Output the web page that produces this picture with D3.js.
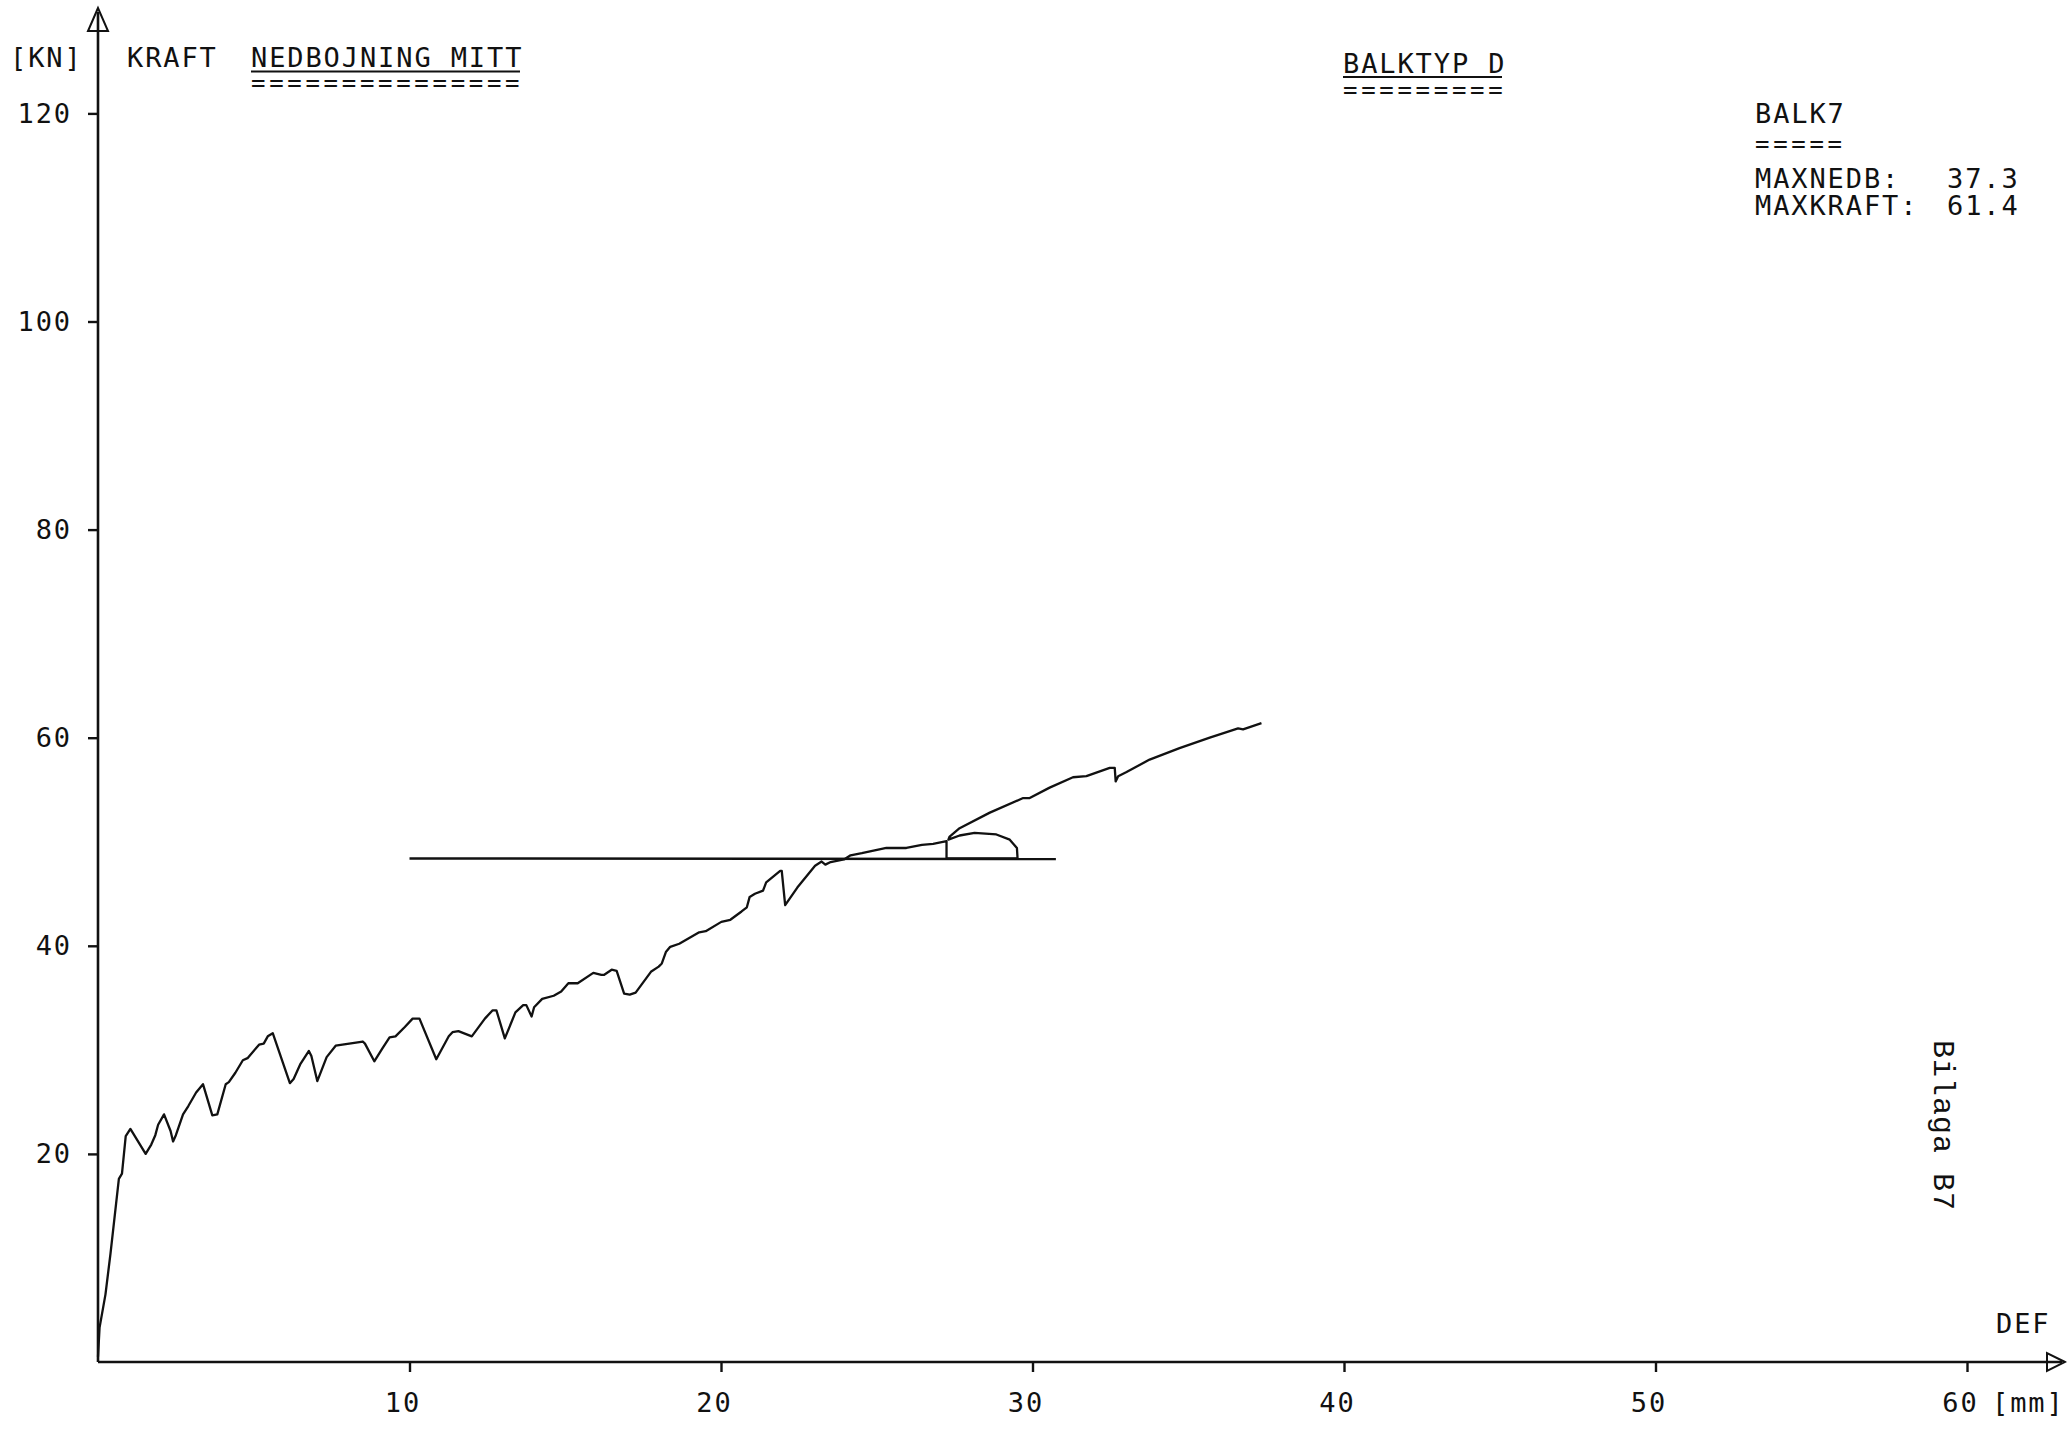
<!DOCTYPE html>
<html>
<head>
<meta charset="utf-8">
<script src="https://cdn.jsdelivr.net/npm/d3@7"></script>
<style>
  html, body { margin: 0; padding: 0; background: #fff; }
  svg { display: block; }
  text { font-family: 'DejaVu Sans Mono', monospace; font-size: 27px; fill: #111; letter-spacing: 1.9px; }
  text.rule { font-size: 24px; letter-spacing: 3.7px; }
</style>
</head>
<body>
<svg id="chart"></svg>
<script>
// force / deflection curve (mm, kN)
const deflection = [0, 0.05, 0.24, 0.4, 0.58, 0.67, 0.77, 0.89, 1.04, 1.53, 1.71, 1.84, 1.93, 2.12, 2.33, 2.41, 2.5,
  2.73, 2.9, 3.15, 3.37, 3.67, 3.83, 4.1, 4.2, 4.41, 4.65, 4.8, 5.17, 5.32, 5.45, 5.61, 6.16, 6.28, 6.49, 6.77, 6.85,
  7.04, 7.34, 7.63, 8.5, 8.57, 8.87, 9.12, 9.36, 9.55, 9.85, 10.1, 10.32, 10.86, 11.26, 11.38, 11.57, 12.0, 12.42,
  12.67, 12.79, 13.06, 13.4, 13.65, 13.75, 13.92, 14.0, 14.26, 14.63, 14.87, 15.1, 15.4, 15.9, 16.16, 16.24, 16.49,
  16.65, 16.89, 17.07, 17.26, 17.75, 18.0, 18.1, 18.23, 18.37, 18.66, 19.3, 19.51, 20.01, 20.3, 20.66, 20.83, 20.92,
  21.09, 21.35, 21.45, 21.9, 21.95, 22.06, 22.45, 23.02, 23.23, 23.35, 23.52, 23.95, 24.16, 24.52, 25.31, 25.95,
  26.45, 26.81, 27.24, 27.24, 29.52, 29.5, 29.27, 28.84, 28.14, 27.66, 27.3, 27.34, 27.66, 28.63, 29.7, 29.91, 30.55,
  31.3, 31.73, 32.48, 32.64, 32.67, 32.75, 33.02, 33.76, 34.72, 35.69, 36.6, 36.76, 37.35];
const force = [0.5, 3.3, 6.5, 10.4, 15.2, 17.6, 18.1, 21.7, 22.4, 20.0, 20.9, 21.8, 22.8, 23.8, 22.2, 21.2, 21.8,
  23.8, 24.6, 25.9, 26.7, 23.7, 23.8, 26.7, 26.9, 27.8, 29.0, 29.2, 30.5, 30.6, 31.3, 31.6, 26.8, 27.2, 28.6, 29.9, 29.4,
  27.0, 29.3, 30.4, 30.8, 30.6, 28.9, 30.1, 31.2, 31.3, 32.2, 33.0, 33.0, 29.1, 31.3, 31.7, 31.8, 31.3, 33.0,
  33.8, 33.8, 31.1, 33.6, 34.3, 34.3, 33.2, 34.1, 34.9, 35.2, 35.6, 36.4, 36.4, 37.4, 37.2, 37.2, 37.7,
  37.6, 35.4, 35.3, 35.5, 37.5, 38.0, 38.3, 39.4, 39.9, 40.2, 41.3, 41.4, 42.3, 42.5, 43.3, 43.7, 44.7,
  45.0, 45.3, 46.1, 47.2, 47.2, 43.9, 45.6, 47.7, 48.1, 47.8, 48.05, 48.3, 48.7, 48.9, 49.4, 49.4,
  49.7, 49.8, 50.05, 48.4, 48.4, 49.4, 50.2, 50.7, 50.85, 50.6, 50.2, 50.5, 51.3, 52.8, 54.2, 54.2, 55.2,
  56.2, 56.3, 57.1, 57.1, 55.8, 56.3, 56.7, 57.9, 59.0, 60.0, 60.9, 60.8, 61.4];

// horizontal reference line
const refDeflection = [10, 30.75];
const refForce = [48.4, 48.35];

const xTicks = [10, 20, 30, 40, 50, 60];
const yTicks = [20, 40, 60, 80, 100, 120];
const maxDeflection = 37.3;
const maxForce = 61.4;

const width = 2067;
const height = 1431;

const svg = d3.select('#chart')
    .attr('width', width)
    .attr('height', height);

const x = d3.scaleLinear().domain([0, 60]).range([98, 1967]);
const y = d3.scaleLinear().domain([0, 120]).range([1362, 113.4]);

const ink = '#111';

// x axis
const xAxis = svg.append('g')
    .attr('transform', `translate(0,${y(0)})`)
    .call(d3.axisBottom(x).tickValues(xTicks).tickSize(10).tickPadding(21).tickFormat(d => d));
xAxis.select('.domain').remove();
xAxis.selectAll('line').attr('stroke', ink).attr('stroke-width', 2.4);
xAxis.selectAll('text').attr('dx', -7).attr('font-family', null).attr('font-size', null);

// y axis
const yAxis = svg.append('g')
    .attr('transform', `translate(${x(0)},0)`)
    .call(d3.axisLeft(y).tickValues(yTicks).tickSize(10).tickPadding(16).tickFormat(d => d));
yAxis.select('.domain').remove();
yAxis.selectAll('line').attr('stroke', ink).attr('stroke-width', 2.4);
yAxis.selectAll('text').attr('font-family', null).attr('font-size', null);

// axis lines with open arrow heads
svg.append('line')
    .attr('x1', x(0)).attr('y1', y(0))
    .attr('x2', 2062).attr('y2', y(0))
    .attr('stroke', ink).attr('stroke-width', 2.6);
svg.append('line')
    .attr('x1', x(0)).attr('y1', y(0))
    .attr('x2', x(0)).attr('y2', 12)
    .attr('stroke', ink).attr('stroke-width', 2.6);
svg.append('polygon')
    .attr('points', [[x(0), 8], [x(0) - 10, 31], [x(0) + 10, 31]].join(' '))
    .attr('fill', 'none').attr('stroke', ink).attr('stroke-width', 2);
svg.append('polygon')
    .attr('points', [[2065, y(0)], [2047, y(0) - 9], [2047, y(0) + 9]].join(' '))
    .attr('fill', 'none').attr('stroke', ink).attr('stroke-width', 2);

// curves
const line = d3.line()
    .x(d => x(d[0]))
    .y(d => y(d[1]));

svg.append('path')
    .datum(d3.zip(refDeflection, refForce))
    .attr('d', line)
    .attr('fill', 'none').attr('stroke', ink).attr('stroke-width', 2.5);

svg.append('path')
    .datum(d3.zip(deflection, force))
    .attr('d', line)
    .attr('fill', 'none').attr('stroke', ink)
    .attr('stroke-width', 2.3)
    .attr('stroke-linejoin', 'round');

// labels
const label = (str, px, py) => svg.append('text').attr('x', px).attr('y', py).text(str);

label('[KN]', 10, 67);
label('KRAFT', 127, 67);
label('NEDBOJNING MITT', 251, 67);
svg.append('line').attr('x1', 251).attr('x2', 520).attr('y1', 71.5).attr('y2', 71.5)
    .attr('stroke', ink).attr('stroke-width', 2);
label('===============', 251, 91).attr('class', 'rule');

label('BALKTYP D', 1343, 73);
svg.append('line').attr('x1', 1343).attr('x2', 1502).attr('y1', 77).attr('y2', 77)
    .attr('stroke', ink).attr('stroke-width', 2);
label('=========', 1343, 97.5).attr('class', 'rule');

label('BALK7', 1755, 123);
label('=====', 1755, 152).attr('class', 'rule');
label('MAXNEDB:', 1755, 188);
label(maxDeflection.toFixed(1), 1947, 188);
label('MAXKRAFT:', 1755, 215);
label(maxForce.toFixed(1), 1947, 215);

label('DEF', 1996, 1333);
label('[mm]', 1992, 1412);

svg.append('text')
    .attr('transform', 'translate(1934,1040) rotate(90)')
    .style('font-family', "'Liberation Mono', monospace")
    .style('font-size', '30px')
    .style('letter-spacing', '1px')
    .text('Bilaga B7');
</script>
</body>
</html>
